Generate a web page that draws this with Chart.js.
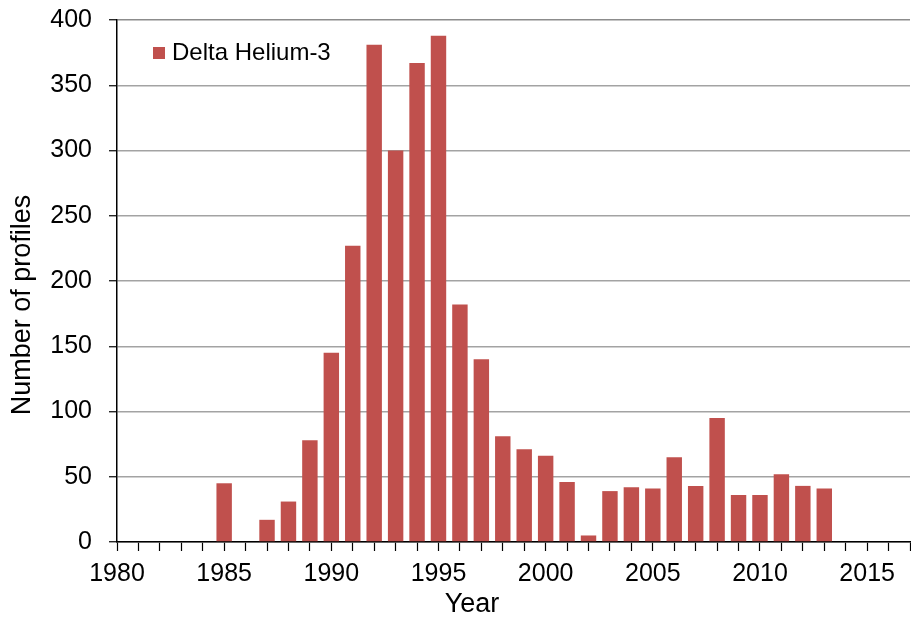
<!DOCTYPE html>
<html>
<head>
<meta charset="utf-8">
<script src="https://cdn.jsdelivr.net/npm/chart.js@4.4.1/dist/chart.umd.min.js"></script>
<style>
  html, body { margin: 0; padding: 0; background: #ffffff; }
  #wrap { width: 911px; height: 620px; position: relative; }
</style>
</head>
<body>
<div id="wrap"><canvas id="c" width="911" height="620"></canvas></div>
<script>
// ---- data ----
const seriesName = "Delta Helium-3";
const years = [1985, 1986, 1987, 1988, 1989, 1990, 1991, 1992, 1993, 1994, 1995, 1996, 1997, 1998, 1999,
               2000, 2001, 2002, 2003, 2004, 2005, 2006, 2007, 2008, 2009, 2010, 2011, 2012, 2013];
const profiles = [45, 0, 17, 31, 78, 145, 227, 381, 300, 367, 388, 182, 140, 81, 71,
                  66, 46, 5, 39, 42, 41, 65, 43, 95, 36, 36, 52, 43, 41];
const xMin = 1980, xMax = 2017, xLabelEvery = 5;
const yTicks = [0, 50, 100, 150, 200, 250, 300, 350, 400];
const xTitle = "Year";
const yTitle = "Number of profiles";

const FONT = "'Liberation Sans', Arial, Helvetica, sans-serif";
const BAR = "#C0504D";

function noPad(s) {
  s.paddingTop = 0; s.paddingBottom = 0; s.paddingLeft = 0; s.paddingRight = 0;
}

const overlay = {
  id: 'overlay',
  afterDraw(chart) {
    const ctx = chart.ctx;
    const ca = chart.chartArea;
    ctx.save();
    // legend inside plot area
    const ds = chart.data.datasets[0];
    ctx.fillStyle = ds.backgroundColor;
    ctx.fillRect(ca.left + 36, ca.top + 27, 12, 12);
    ctx.fillStyle = '#000';
    ctx.font = '24px ' + FONT;
    ctx.textAlign = 'left';
    ctx.textBaseline = 'middle';
    ctx.fillText(ds.label, ca.left + 55, ca.top + 33);
    // axis titles
    ctx.font = '27px ' + FONT;
    ctx.textAlign = 'center';
    ctx.textBaseline = 'middle';
    ctx.fillText(xTitle, 472, 605);
    ctx.translate(23, 305);
    ctx.rotate(-Math.PI / 2);
    ctx.fillText(yTitle, 0, 0);
    ctx.restore();
  }
};

new Chart(document.getElementById('c'), {
  type: 'bar',
  data: {
    datasets: [{
      label: seriesName,
      data: years.map((y, i) => ({ x: y, y: profiles[i] })),
      backgroundColor: BAR,
      borderWidth: 0,
      barPercentage: 0.9,
      categoryPercentage: 0.8
    }]
  },
  options: {
    responsive: false,
    animation: false,
    devicePixelRatio: 1,
    layout: { padding: { top: 20, right: 1, left: 0, bottom: 0 } },
    plugins: { legend: { display: false }, tooltip: { enabled: false }, title: { display: false } },
    scales: {
      x: {
        type: 'linear',
        min: xMin, max: xMax,
        offset: false,
        afterFit(s) { s.height = 78; noPad(s); },
        border: { display: true, color: '#000', width: 1.5 },
        grid: { offset: false, drawOnChartArea: false, drawTicks: true, tickLength: 9, tickColor: '#000', tickWidth: 1.2 },
        ticks: {
          stepSize: 1, autoSkip: false, maxRotation: 0, minRotation: 0, padding: 8,
          color: '#000', font: { family: FONT, size: 25 },
          callback: (v) => (v % xLabelEvery === 0 ? String(v) : '')
        }
      },
      y: {
        min: yTicks[0], max: yTicks[yTicks.length - 1],
        afterFit(s) { s.width = 117; noPad(s); },
        afterBuildTicks(s) { s.ticks = yTicks.map(v => ({ value: v })); },
        border: { display: true, color: '#000', width: 1.5 },
        grid: {
          drawOnChartArea: true, drawTicks: true, tickLength: 8,
          color: (c) => (c.tick && c.tick.value === 400 ? '#8c8c8c' : '#a3a3a3'),
          lineWidth: 1.5, tickColor: '#000', tickWidth: 1.2
        },
        ticks: { padding: 17, color: '#000', font: { family: FONT, size: 25 } }
      }
    }
  },
  plugins: [overlay]
});
</script>
</body>
</html>
